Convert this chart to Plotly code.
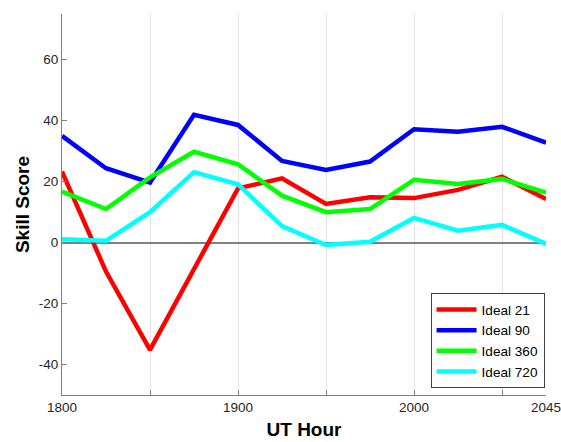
import plotly.graph_objects as go

# minutes after 18:00 UT
minutes = [0, 15, 30, 45, 60, 75, 90, 105, 120, 135, 150, 165]
ideal_21 = [23.3, -9.5, -35.2, -8.6, 17.8, 21.1, 12.7, 14.9, 14.6, 17.3, 21.6, 14.3]
ideal_90 = [35.0, 24.4, 19.7, 41.9, 38.6, 26.8, 23.8, 26.6, 37.2, 36.4, 38.0, 32.8]
ideal_360 = [16.7, 11.0, 21.4, 29.8, 25.7, 15.4, 10.0, 11.0, 20.6, 19.2, 20.9, 16.4]
ideal_720 = [1.1, 0.6, 10.0, 23.1, 19.1, 5.4, -0.8, 0.3, 8.1, 3.9, 5.8, -0.4]

series_names = ["Ideal 21", "Ideal 90", "Ideal 360", "Ideal 720"]
series_values = [ideal_21, ideal_90, ideal_360, ideal_720]
colors = ["#ff0000", "#0000ff", "#00ff00", "#00ffff"]

tick_vals = [0, 30, 60, 90, 120, 150, 165]
tick_text = ["1800", "", "1900", "", "2000", "", "2045"]
y_ticks = [-40, -20, 0, 20, 40, 60]
y_tick_text = ["-40", "-20", "0", "20", "40", "60"]

fig = go.Figure()
for name, vals, c in zip(series_names, series_values, colors):
    fig.add_trace(go.Scatter(x=minutes, y=vals, mode="lines", name=name,
                             line=dict(color=c, width=4.5)))

font_family = "Liberation Sans, Arial, Helvetica, sans-serif"
fig.update_layout(
    width=561, height=442,
    margin=dict(l=62, r=15, t=14, b=47, autoexpand=False),
    paper_bgcolor="white", plot_bgcolor="white",
    font=dict(family=font_family, size=13, color="#262626"),
    showlegend=True,
    legend=dict(x=0.997, xanchor="right", y=0.018, yanchor="bottom",
                bordercolor="#404040", borderwidth=1, bgcolor="white",
                font=dict(size=13.6, color="#000000"),
                tracegroupgap=0, itemwidth=40),
    xaxis=dict(
        range=[0, 165], tickmode="array", tickvals=tick_vals, ticktext=tick_text,
        showgrid=True, gridcolor="#e3e3e3", gridwidth=1,
        showline=True, linecolor="#808080", linewidth=1.2,
        ticks="inside", ticklen=5, tickcolor="#808080",
        zeroline=False, automargin=False, ticklabeloverflow="allow",
        title=dict(text="UT Hour", font=dict(size=19, weight="bold", color="#000000"), standoff=8),
        tickfont=dict(size=13.5),
    ),
    yaxis=dict(
        range=[-50, 75], tickmode="array", tickvals=y_ticks, ticktext=y_tick_text,
        showgrid=False,
        showline=True, linecolor="#808080", linewidth=1.2,
        ticks="inside", ticklen=5, tickcolor="#808080",
        zeroline=True, zerolinecolor="#808080", zerolinewidth=1.5,
        automargin=False,
        title=dict(text="Skill Score", font=dict(size=19, weight="bold", color="#000000"), standoff=4),
        tickfont=dict(size=13.5),
    ),
)

fig.write_html("out.html", config={"displayModeBar": False},
               post_script="document.body.style.margin='0';document.body.style.overflow='hidden';")
